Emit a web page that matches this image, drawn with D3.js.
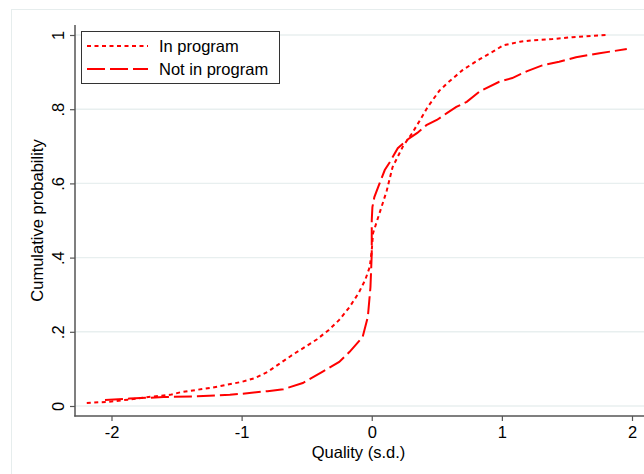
<!DOCTYPE html>
<html>
<head>
<meta charset="utf-8">
<script src="https://cdn.jsdelivr.net/npm/d3@7"></script>
<style>
  html, body { margin: 0; padding: 0; background: #ffffff; }
  svg { display: block; }
  text { font-family: "Liberation Sans", Arial, Helvetica, sans-serif; fill: #000; }
</style>
</head>
<body>
<script>
// Empirical CDFs of quality (in s.d. units) by program participation
const qualityIn = [-2.19, -2.0, -1.85, -1.7, -1.55, -1.47, -1.22, -1.0, -0.9, -0.8, -0.7, -0.6, -0.5, -0.42, -0.33, -0.25, -0.17, -0.1, -0.05, -0.015, 0.0, 0.01, 0.06, 0.115, 0.16, 0.24, 0.31, 0.37, 0.43, 0.52, 0.58, 0.7, 0.83, 0.93, 1.01, 1.14, 1.24, 1.39, 1.54, 1.8];
const cdfIn     = [0.008, 0.012, 0.018, 0.025, 0.03, 0.037, 0.05, 0.065, 0.075, 0.092, 0.116, 0.14, 0.162, 0.18, 0.205, 0.232, 0.267, 0.305, 0.34, 0.375, 0.42, 0.466, 0.52, 0.58, 0.644, 0.7, 0.735, 0.77, 0.806, 0.85, 0.87, 0.906, 0.935, 0.955, 0.972, 0.982, 0.986, 0.989, 0.994, 1.0];

const qualityOut = [-2.05, -1.86, -1.6, -1.34, -1.09, -0.94, -0.8, -0.68, -0.53, -0.38, -0.25, -0.17, -0.07, -0.03, -0.01, 0.0, 0.0, 0.005, 0.02, 0.06, 0.1, 0.14, 0.2, 0.27, 0.35, 0.42, 0.5, 0.58, 0.65, 0.73, 0.83, 0.98, 1.08, 1.19, 1.31, 1.44, 1.57, 1.75, 1.96];
const cdfOut     = [0.016, 0.02, 0.024, 0.026, 0.03, 0.035, 0.04, 0.045, 0.062, 0.092, 0.119, 0.146, 0.186, 0.24, 0.32, 0.41, 0.5, 0.536, 0.563, 0.6, 0.636, 0.658, 0.695, 0.717, 0.736, 0.757, 0.771, 0.79, 0.806, 0.82, 0.848, 0.874, 0.884, 0.902, 0.918, 0.928, 0.94, 0.951, 0.962];

const xTicks = [-2, -1, 0, 1, 2];
const yTicks = [0, 0.2, 0.4, 0.6, 0.8, 1];
const yTickLabels = ["0", ".2", ".4", ".6", ".8", "1"];

const seriesNames = ["In program", "Not in program"];

const W = 644, H = 474;
const plot = { left: 75, right: 644, top: 25, bottom: 416 };
const fontSize = "16.5px";

const svg = d3.select("body").append("svg").attr("width", W).attr("height", H);

// outer graph region border
svg.append("rect")
  .attr("x", 11.5).attr("y", 9.5)
  .attr("width", W + 20).attr("height", H + 20)
  .attr("fill", "none").attr("stroke", "#e6eded").attr("stroke-width", 1);

const x = d3.scaleLinear().domain([-2, 2]).range([111.5, 632]);
const y = d3.scaleLinear().domain([0, 1]).range([406, 35]);

// horizontal grid lines
svg.append("g").selectAll("line").data(yTicks).join("line")
  .attr("x1", plot.left).attr("x2", plot.right)
  .attr("y1", d => y(d)).attr("y2", d => y(d))
  .attr("stroke", "#e8efef").attr("stroke-width", 1.4);

// y axis
const yAxis = svg.append("g").attr("transform", `translate(${plot.left},0)`)
  .call(d3.axisLeft(y).tickValues(yTicks).tickFormat((d, i) => yTickLabels[i]).tickSize(5).tickSizeOuter(0));
yAxis.select(".domain").remove();
yAxis.append("line").attr("x1", 0).attr("x2", 0).attr("y1", plot.top).attr("y2", plot.bottom + 0.5)
  .attr("stroke", "#555").attr("stroke-width", 1.5);
yAxis.selectAll(".tick line").attr("stroke", "#555").attr("stroke-width", 1.2);
yAxis.selectAll(".tick text")
  .attr("x", null).attr("dy", null)
  .attr("transform", "translate(-17,0) rotate(-90)")
  .attr("text-anchor", "middle").attr("dominant-baseline", "central")
  .style("font-size", fontSize).style("font-family", "'Liberation Sans', Arial, sans-serif").attr("fill", "#000");

// x axis
const xAxis = svg.append("g").attr("transform", `translate(0,${plot.bottom})`)
  .call(d3.axisBottom(x).tickValues(xTicks).tickFormat(d3.format("d")).tickSize(5).tickSizeOuter(0));
xAxis.select(".domain").remove();
xAxis.append("line").attr("x1", plot.left - 0.75).attr("x2", plot.right).attr("y1", 0).attr("y2", 0)
  .attr("stroke", "#555").attr("stroke-width", 1.5);
xAxis.selectAll(".tick line").attr("stroke", "#555").attr("stroke-width", 1.2);
xAxis.selectAll(".tick text")
  .text(d => d < 0 ? "-" + Math.abs(d) : String(d))
  .attr("y", 10).attr("dy", "0.71em")
  .style("font-size", fontSize).style("font-family", "'Liberation Sans', Arial, sans-serif").attr("fill", "#000");

// axis titles
svg.append("text")
  .attr("transform", `translate(43,${(y(0) + y(1)) / 2}) rotate(-90)`)
  .attr("text-anchor", "middle")
  .style("font-size", fontSize)
  .text("Cumulative probability");
svg.append("text")
  .attr("x", (plot.left + plot.right) / 2 - 1).attr("y", 458)
  .attr("text-anchor", "middle")
  .style("font-size", fontSize)
  .text("Quality (s.d.)");

// curves
const line = d3.line().x(d => x(d[0])).y(d => y(d[1]));
const ptsIn = qualityIn.map((q, i) => [q, cdfIn[i]]);
const ptsOut = qualityOut.map((q, i) => [q, cdfOut[i]]);
const dashIn = "4,3.5";
const dashOut = "18,5";

svg.append("path").datum(ptsOut).attr("d", line)
  .attr("fill", "none").attr("stroke", "#ff0000").attr("stroke-width", 2)
  .attr("stroke-dasharray", dashOut);
svg.append("path").datum(ptsIn).attr("d", line)
  .attr("fill", "none").attr("stroke", "#ff0000").attr("stroke-width", 2)
  .attr("stroke-dasharray", dashIn);

// legend
const lg = svg.append("g");
lg.append("rect").attr("x", 81.5).attr("y", 31.5).attr("width", 198).attr("height", 52)
  .attr("fill", "#fff").attr("stroke", "#333").attr("stroke-width", 1);
const legendRows = [
  { name: seriesNames[0], dash: dashIn, y: 46 },
  { name: seriesNames[1], dash: dashOut, y: 69 }
];
legendRows.forEach(r => {
  lg.append("line").attr("x1", 87).attr("x2", 148).attr("y1", r.y).attr("y2", r.y)
    .attr("stroke", "#ff0000").attr("stroke-width", 2).attr("stroke-dasharray", r.dash);
  lg.append("text").attr("x", 159).attr("y", r.y + 6)
    .style("font-size", fontSize).text(r.name);
});
</script>
</body>
</html>
